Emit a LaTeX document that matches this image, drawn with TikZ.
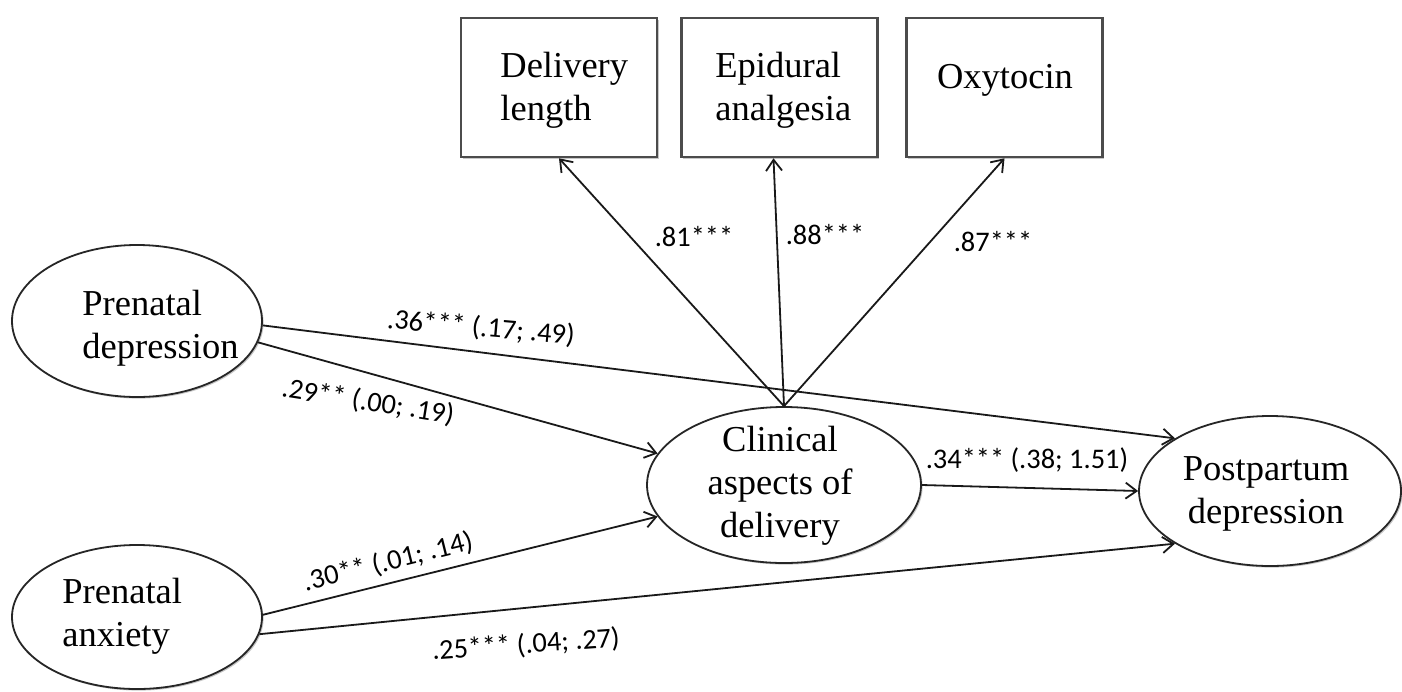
\documentclass[tikz,border=0pt]{standalone}
\usepackage{fontspec}
\setmainfont{Liberation Serif}
\newfontfamily\labfont{Carlito}
\usetikzlibrary{shapes.geometric,arrows.meta,calc,shadows}

\begin{document}
\begin{tikzpicture}[x=0.5pt,y=-0.5pt,
  shd/.style={drop shadow={shadow xshift=0.8pt,shadow yshift=-0.8pt,fill=black,opacity=0.22}},
  lat/.style={ellipse,draw=black!85,line width=0.9pt,fill=white,inner sep=0pt,shd},
  obs/.style={rectangle,draw=black!70,line width=1.3pt,fill=white,inner sep=0pt,
              minimum width=98pt,minimum height=69.5pt,shd},
  txt/.style={font=\fontsize{18.25}{21.5}\selectfont,inner sep=0pt,align=left},
  ctxt/.style={txt,align=center},
  arr/.style={draw=black!90,line width=0.9pt,-{Straight Barb[length=5.5pt,width=8pt,line width=0.9pt]}},
  coef/.style={font=\labfont\fontsize{14.2}{16}\selectfont,inner sep=0pt}]

\useasboundingbox[fill=white] (0,0) rectangle (1402,691);

% observed indicators
\node[obs] (b1) at (559,87.5) {};
\node[obs] (b2) at (779.5,87.5) {};
\node[obs] (b3) at (1004.5,87.5) {};

% latent variables
\node[lat,minimum width=125pt,minimum height=76pt] (pd) at (137,321) {};
\node[lat,minimum width=125pt,minimum height=72pt] (ax) at (137,617) {};
\node[lat,minimum width=137pt,minimum height=78pt] (cl) at (784,485) {};
\node[lat,minimum width=131pt,minimum height=75pt] (pp) at (1270,491) {};

% texts
\node[txt,anchor=west] (tb1) at (500,90.5) {Delivery\\length};
\node[txt,anchor=west] (tb2) at (715,90.5) {Epidural\\analgesia};
\node[txt] (tb3) at (1005,80) {Oxytocin};
\node[txt,anchor=west] (tpd) at (82,328) {Prenatal\\depression};
\node[txt,anchor=west] (tax) at (62,616) {Prenatal\\anxiety};
\node[ctxt] (tcl) at (780,486) {Clinical\\aspects of\\delivery};
\node[ctxt] (tpp) at (1266,494) {Postpartum\\depression};

% paths
\draw[arr] (cl.north) -- (b1.south);
\draw[arr] (cl.north) -- ($(b2.south)+(-6,0)$);
\draw[arr] (cl.north) -- (b3.south);
\draw[arr] (pd.-2) -- (pp.151);
\draw[arr] (pd.-10) -- (cl.166);
\draw[arr] (ax.1) -- (cl.194);
\draw[arr] (ax.-8) -- (pp.209);
\draw[arr] (cl.east) -- (pp.west);

% coefficients
\node[coef] (c81) at (694,237) {.81***};
\node[coef] (c88) at (825,235) {.88***};
\node[coef] (c87) at (993,242) {.87***};
\node[coef,rotate=-5] (c36) at (481,328) {.36*** (.17; .49)};
\node[coef,rotate=-9] (c29) at (368,402) {.29** (.00; .19)};
\node[coef,rotate=14] (c30) at (388,562) {.30** (.01; .14)};
\node[coef,rotate=4] (c25) at (526,645) {.25*** (.04; .27)};
\node[coef] (c34) at (1027,460) {.34*** (.38; 1.51)};
\end{tikzpicture}
\end{document}
